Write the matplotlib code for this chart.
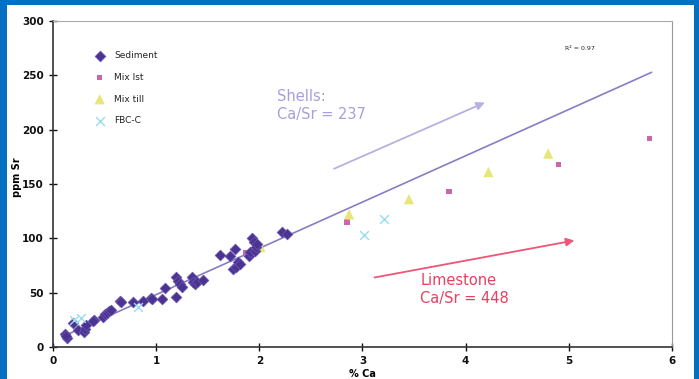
"""
Ca vs Sr scatter with regression line and shell / limestone trend arrows
"""
import matplotlib
matplotlib.use('Agg')
import matplotlib.pyplot as plt
from matplotlib.patches import Rectangle
import numpy as np

# Data
sediment_ca = [0.12, 0.14, 0.13, 0.19, 0.24, 0.30, 0.31, 0.32, 0.40, 0.39,
               0.48, 0.50, 0.52, 0.54, 0.56, 0.65, 0.66, 0.78, 0.87, 0.95,
               0.96, 1.06, 1.09, 1.19, 1.19, 1.21, 1.23, 1.25, 1.35, 1.36,
               1.38, 1.40, 1.45, 1.62, 1.72, 1.76, 1.74, 1.77, 1.79, 1.81,
               1.90, 1.91, 1.93, 1.95, 1.96, 1.97, 1.98, 2.22, 2.27]
sediment_sr = [12, 8, 10, 22, 16, 14, 17, 20, 25, 24,
               28, 30, 31, 33, 34, 42, 41, 41, 42, 45,
               44, 44, 54, 46, 64, 61, 58, 55, 64, 60,
               58, 60, 62, 85, 84, 90, 72, 74, 78, 76,
               84, 87, 100, 97, 88, 92, 95, 106, 104]

mixlst_ca = [1.87, 2.85, 3.84, 4.90, 5.78]
mixlst_sr = [87, 115, 143, 168, 192]

mixtill_ca = [2.01, 2.87, 3.45, 4.22, 4.80]
mixtill_sr = [92, 122, 136, 161, 178]

fbc_ca = [0.20, 0.27, 0.82, 3.01, 3.21]
fbc_sr = [25, 27, 37, 103, 118]

# regression line end points
fit_x = [0.15, 5.80]
fit_slope = 42.6
fit_intercept = 5.6

x_ticks = [0, 1, 2, 3, 4, 5, 6]
y_ticks = [0, 50, 100, 150, 200, 250, 300]

fig = plt.figure(figsize=(6.99, 3.79), dpi=100)
fig.patch.set_facecolor('#0070C0')
bg = Rectangle((7 / 699, 0), 687 / 699, 374 / 379,
               transform=fig.transFigure, facecolor='white',
               edgecolor='none', zorder=-10)
fig.patches.append(bg)

ax = fig.add_axes([53 / 699, 32 / 379, 619 / 699, 326 / 379])
ax.set_zorder(5)
ax.set_facecolor('white')

# regression line
fx = np.array(fit_x)
ax.plot(fx, fit_slope * fx + fit_intercept, color='#8A7CC4', lw=1.2, zorder=2)

ax.scatter(sediment_ca, sediment_sr, marker='D', s=30, color='#4A3391',
           edgecolors='#6A55B0', linewidths=0.5, zorder=4, label='Sediment')
ax.scatter(mixlst_ca, mixlst_sr, marker='s', s=16, color='#CC66AA',
           edgecolors='none', zorder=3, label='Mix lst')
ax.scatter(mixtill_ca, mixtill_sr, marker='^', s=55, color='#E6E67A',
           edgecolors='none', zorder=3, label='Mix till')
ax.scatter(fbc_ca, fbc_sr, marker='x', s=40, color='#99DDEE',
           linewidths=1.0, zorder=5, label='FBC-C')

# trend arrows
ax.annotate('', xy=(4.21, 226), xytext=(2.70, 163),
            arrowprops=dict(arrowstyle='-|>', color='#B8B0E0', lw=1.3,
                            mutation_scale=12))
ax.text(2.17, 237, 'Shells:\nCa/Sr = 237', color='#A89FDA', fontsize=10.5,
        va='top', ha='left', linespacing=1.25)

ax.annotate('', xy=(5.08, 98.5), xytext=(3.09, 63.5),
            arrowprops=dict(arrowstyle='-|>', color='#EE5577', lw=1.3,
                            mutation_scale=12))
ax.text(3.56, 68, 'Limestone\nCa/Sr = 448', color='#E84060', fontsize=10.5,
        va='top', ha='left', linespacing=1.25)

ax.text(4.96, 275, 'R² = 0.97', fontsize=4.5, color='#222222',
        ha='left', va='center')

# legend drawn as in the original: markers in a column at the upper left
leg = ax.legend(loc='upper left', bbox_to_anchor=(0.055, 0.918), frameon=False,
                fontsize=6.5, handletextpad=0.6, labelspacing=1.4,
                scatterpoints=1, borderaxespad=0)
for t in leg.get_texts():
    t.set_color('#222222')

ax.set_xlim(0, 6)
ax.set_ylim(0, 300)
ax.set_xticks(x_ticks)
ax.set_yticks(y_ticks)
ax.tick_params(direction='inout', length=6, width=1, labelsize=7.5,
               colors='#111111')
for lab in ax.get_xticklabels() + ax.get_yticklabels():
    lab.set_fontweight('bold')

ax.spines['left'].set_color('#333333')
ax.spines['bottom'].set_color('#333333')
ax.spines['left'].set_linewidth(1.2)
ax.spines['bottom'].set_linewidth(1.2)
ax.spines['top'].set_color('#AAAAAA')
ax.spines['right'].set_color('#999999')

ax.set_xlabel('% Ca', fontsize=7, fontweight='bold', labelpad=2)
ax.set_ylabel('ppm Sr', fontsize=7, fontweight='bold')
ax.yaxis.set_label_coords(-0.05, 0.52)

plt.savefig('out.png', dpi=100, facecolor=fig.get_facecolor())
